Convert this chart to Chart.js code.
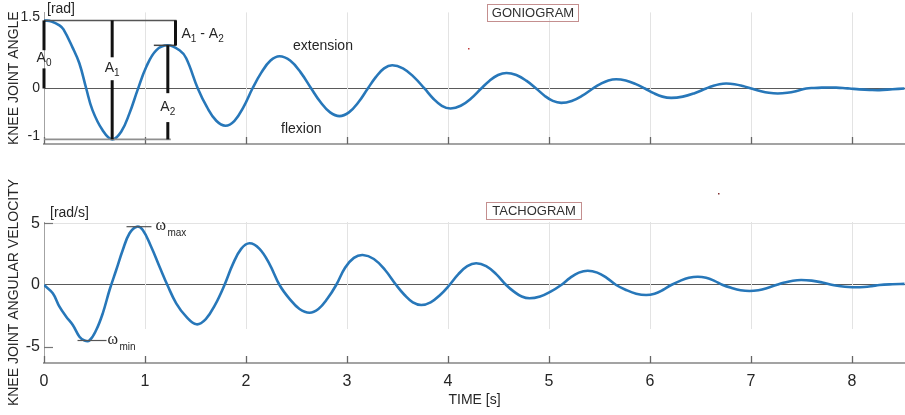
<!DOCTYPE html>
<html><head><meta charset="utf-8">
<script src="https://cdn.jsdelivr.net/npm/chart.js@4.4.1/dist/chart.umd.min.js"></script>
<style>
html,body{margin:0;padding:0;background:#fff;width:905px;height:415px;overflow:hidden}
#wrap{position:relative;width:905px;height:415px;background:#fff}
canvas{position:absolute;left:0}
#c1{top:0}
#c2{top:160px}
</style></head><body>
<div id="wrap"><canvas id="c1" width="905" height="160"></canvas><canvas id="c2" width="905" height="255"></canvas></div>
<script>
// ---------- data ----------
const timeTicks = [0,1,2,3,4,5,6,7,8];
const angleTicks = [-1,0,1.5];
const velTicks = [-5,0,5];

// GONIOGRAM: knee joint angle [rad] vs time [s]
const angleT = [0,0.074,0.153,0.193,0.282,0.350,0.418,0.480,0.579,0.675,0.764,0.847,0.926,1.012,1.111,1.226,1.342,1.408,1.523,
  1.614,1.706,1.797, 1.886,1.975,2.064, 2.153,2.243,2.332, 2.437,2.541,2.646, 2.739,2.833,2.926, 3.019,3.113,3.206,
  3.287,3.367,3.448, 3.554,3.661,3.767, 3.853,3.939,4.025, 4.126,4.228,4.329, 4.412,4.496,4.579, 4.677,4.775,4.873,
  4.956,5.038,5.121, 5.225,5.330,5.434, 5.511,5.588,5.665, 5.760,5.855,5.950, 6.037,6.123,6.210, 6.325,6.441,6.556,
  6.622,6.688,6.754, 6.837,6.919,7.002, 7.090,7.177,7.265, 7.359,7.453,7.547, 7.624,7.700,7.777, 7.843,7.909,7.975,
  8.074,8.173,8.272, 8.400,8.520];
const angleV = [1.423,1.402,1.319,1.235,0.860,0.527,0,-0.452,-0.869,-1.063,-0.904,-0.515,-0.035,0.450,0.798,0.902,0.798,0.631,0,
  -0.390,-0.675,-0.779, -0.675,-0.390,0, 0.337,0.583,0.673, 0.583,0.337,0, -0.289,-0.500,-0.577, -0.500,-0.289,0,
  0.243,0.420,0.485, 0.420,0.243,0, -0.209,-0.361,-0.417, -0.361,-0.209,0, 0.163,0.281,0.325, 0.281,0.163,0,
  -0.150,-0.260,-0.300, -0.260,-0.150,0, 0.097,0.168,0.194, 0.168,0.097,0, -0.098,-0.170,-0.196, -0.170,-0.098,0,
  0.052,0.090,0.104, 0.090,0.052,0, -0.052,-0.090,-0.104, -0.090,-0.052,0, 0.011,0.018,0.021, 0.018,0.011,0,
  -0.018,-0.030,-0.035, -0.015,0];

// TACHOGRAM: knee joint angular velocity [rad/s] vs time [s]
const velT = [0,0.087,0.153,0.220,0.285,0.351,0.401,0.450,0.517,0.582,0.649,0.715,0.780,0.847,0.919,0.978,1.061,1.144,1.226,1.309,1.408,1.510,
  1.602,1.695,1.787, 1.870,1.952,2.035, 2.134,2.233,2.332, 2.431,2.530,2.629, 2.717,2.805,2.893, 2.981,3.068,3.156,
  3.266,3.377,3.487, 3.570,3.652,3.735, 3.828,3.922,4.015, 4.103,4.191,4.279, 4.378,4.477,4.576, 4.653,4.730,4.807,
  4.912,5.016,5.121, 5.209,5.296,5.384, 5.478,5.571,5.665, 5.764,5.863,5.962, 6.045,6.127,6.210, 6.298,6.385,6.473,
  6.556,6.638,6.721, 6.809,6.897,6.985, 7.073,7.162,7.250, 7.332,7.415,7.497, 7.601,7.706,7.810, 7.887,7.965,8.042,
  8.119,8.195,8.272, 8.400,8.520];
const velV = [0,-0.675,-1.764,-2.577,-3.252,-4.203,-4.512,-4.512,-3.659,-2.301,-0.407,1.220,2.846,4.203,4.740,4.472,3.114,1.488,-0.081,-1.488,-2.577,-3.195,
  -2.767,-1.598,0, 1.695,2.936,3.390, 2.936,1.695,0, -1.126,-1.950,-2.252, -1.950,-1.126,0, 1.400,2.200,2.439,
  2.112,1.220,0, -0.813,-1.408,-1.626, -1.408,-0.813,0, 0.882,1.528,1.764, 1.528,0.882,0, -0.540,-0.936,-1.081,
  -0.936,-0.540,0, 0.580,1.007,1.163, 1.007,0.580,0, -0.407,-0.704,-0.813, -0.704,-0.407,0, 0.338,0.585,0.675,
  0.585,0.338,0, -0.244,-0.423,-0.488, -0.423,-0.244,0, 0.204,0.352,0.407, 0.352,0.204,0, -0.094,-0.162,-0.187,
  -0.162,-0.094,0, 0.060,0.090];

// annotation values (amplitudes / extremes as read)
const A0top = 1.423, Amin = -1.063, A2peak = 0.902;
const tA0 = 0, tA1 = 0.675, tA2 = 1.226, tA12 = 1.302;
const wMax = 4.740, wMin = -4.512;

// ---------- styles ----------
const SANS = "'Liberation Sans', Arial, sans-serif";
const SERIF = "'Liberation Serif', 'Times New Roman', serif";
const TXT = '#262626', GRID = '#e3e3e3', AXC = '#a3a3a3', ZERO = '#5a5a5a', LINE = '#2777b9';
Chart.defaults.font.family = SANS;
Chart.defaults.color = TXT;

function seg(ctx, x1, y1, x2, y2, col, lw){
  ctx.beginPath(); ctx.strokeStyle = col; ctx.lineWidth = lw;
  ctx.moveTo(x1, y1); ctx.lineTo(x2, y2); ctx.stroke();
}
// parts: [text, font, size, isSub]
function rich(ctx, x, capMid, parts, align){
  let w = 0;
  const ps = parts.map(p => { ctx.font = p[2] + 'px ' + p[1]; const pw = ctx.measureText(p[0]).width; w += pw; return {t:p[0], f:ctx.font, w:pw, sub:p[3], s:p[2]}; });
  let cx = align === 'center' ? x - w/2 : x;
  const main = parts[0][2];
  const base = capMid + 0.358*main;
  ctx.textAlign = 'left'; ctx.textBaseline = 'alphabetic'; ctx.fillStyle = TXT;
  ps.forEach(p => { ctx.font = p.f; ctx.fillText(p.t, cx, p.sub ? base + 4 : base); cx += p.w; });
}
function boxLabel(ctx, x, y, w, h, text){
  ctx.strokeStyle = '#c48f8f'; ctx.lineWidth = 1;
  ctx.strokeRect(x + 0.5, y + 0.5, w, h);
  ctx.font = '13px ' + SANS; ctx.fillStyle = '#303030';
  ctx.textAlign = 'center'; ctx.textBaseline = 'middle';
  ctx.fillText(text, x + w/2 + 0.5, y + h/2 + 1);
}
function gridAndTicks(chart, gridBottomVal, yTicksIn){
  const {ctx, chartArea:a, scales:{x, y}} = chart;
  ctx.save();
  const gb = gridBottomVal === null ? a.bottom : y.getPixelForValue(gridBottomVal);
  timeTicks.forEach(t => {
    const px = Math.round(x.getPixelForValue(t)) + 0.5;
    if (t > 0) seg(ctx, px, a.top, px, gb, GRID, 1);
    seg(ctx, px, a.bottom, px, a.bottom - 7, '#666', 1.3);
  });
  if (yTicksIn) yTicksIn.forEach(v => {
    const py = Math.round(y.getPixelForValue(v)) + 0.5;
    seg(ctx, a.left, py, a.left + 9, py, '#777', 1.2);
  });
  ctx.restore();
}

const topPlugin = {
  id: 'topOverlay',
  beforeDatasetsDraw(chart){ gridAndTicks(chart, null, null); },
  afterDatasetsDraw(chart){
    const {ctx, scales:{x, y}} = chart;
    const X = v => x.getPixelForValue(v), Y = v => y.getPixelForValue(v);
    ctx.save();
    seg(ctx, X(0), Y(A0top), X(tA12) + 1, Y(A0top), '#555', 1.5);
    seg(ctx, X(0), Y(Amin), X(tA2) + 3, Y(Amin), '#8f8f8f', 1.6);
    seg(ctx, X(tA2) - 14, Y(A2peak), X(tA12) + 1, Y(A2peak), '#444', 1.5);
    const bars = [
      {t:tA0, a:A0top, b:0, g1:0.80, g2:0.42, lab:['A','0']},
      {t:tA1, a:A0top, b:Amin, g1:0.652, g2:0.173, lab:['A','1']},
      {t:tA2, a:A2peak, b:Amin, g1:-0.098, g2:-0.702, lab:['A','2']},
      {t:tA12, a:A0top, b:A2peak, g1:null, g2:null, lab:null}
    ];
    bars.forEach(bb => {
      const px = X(bb.t);
      if (bb.g1 === null) { seg(ctx, px, Y(bb.a), px, Y(bb.b), '#111', 3); }
      else {
        seg(ctx, px, Y(bb.a), px, Y(bb.g1), '#111', 3);
        seg(ctx, px, Y(bb.g2), px, Y(bb.b), '#111', 3);
        const cm = (Y(bb.g1) + Y(bb.g2))/2 - 2;
        rich(ctx, px, cm, [[bb.lab[0], SANS, 14, false], [bb.lab[1], SANS, 10, true]], 'center');
      }
    });
    rich(ctx, X(tA12) + 6, (Y(A0top) + Y(A2peak))/2, [['A', SANS, 14, false], ['1', SANS, 10, true], [' - ', SANS, 14, false], ['A', SANS, 14, false], ['2', SANS, 10, true]], 'left');
    ctx.fillStyle = TXT; ctx.textAlign = 'left'; ctx.textBaseline = 'middle';
    ctx.font = '14px ' + SANS;
    ctx.fillText('[rad]', 47, 9);
    ctx.fillText('extension', 293, 46);
    ctx.fillText('flexion', 281, 129);
    boxLabel(ctx, 487, 4, 91, 17, 'GONIOGRAM');
    ctx.fillStyle = '#c03a3a'; ctx.fillRect(468, 48, 1.5, 1.5);
    ctx.restore();
  }
};

const botPlugin = {
  id: 'botOverlay',
  beforeDatasetsDraw(chart){ gridAndTicks(chart, -3.58, [5, -5]); },
  afterDatasetsDraw(chart){
    const {ctx, scales:{x, y}} = chart;
    const X = v => x.getPixelForValue(v), Y = v => y.getPixelForValue(v);
    ctx.save();
    const yMax = Y(wMax), yMin = Y(wMin);
    seg(ctx, X(0.817), yMax, X(1.064), yMax, '#555', 1.2);
    seg(ctx, X(0.332), yMin, X(0.619), yMin, '#555', 1.2);
    ctx.fillStyle = TXT; ctx.textAlign = 'left'; ctx.textBaseline = 'alphabetic';
    ctx.font = '16px ' + SERIF; ctx.fillText('\u03c9', X(1.064) + 4, yMax + 3.5);
    ctx.font = '10px ' + SANS; ctx.fillText('max', X(1.064) + 16, yMax + 9);
    ctx.font = '16px ' + SERIF; ctx.fillText('\u03c9', X(0.619) + 1, yMin + 3.5);
    ctx.font = '10px ' + SANS; ctx.fillText('min', X(0.619) + 13, yMin + 9);
    ctx.font = '14px ' + SANS; ctx.textBaseline = 'middle';
    ctx.fillText('[rad/s]', 50, 53);
    boxLabel(ctx, 486, 42, 95, 17, 'TACHOGRAM');
    ctx.fillStyle = '#803030'; ctx.fillRect(718, 33, 1.5, 1.5);
    ctx.restore();
  }
};

function pts(T, V){ return T.map((t, i) => ({x:t, y:V[i]})); }

function makeChart(id, T, V, yMin, yMax, yTicks, yTitle, padTop, xHeight, showX, yTickSize, grid5, plugin){
  return new Chart(document.getElementById(id), {
    type: 'line',
    data: { datasets: [{ data: pts(T, V), borderColor: LINE, borderWidth: 2.6, pointRadius: 0, fill: false, tension: 0.4 }] },
    options: {
      responsive: false, animation: false, devicePixelRatio: 1,
      layout: { padding: { top: padTop, left: 0, right: 0, bottom: 0 } },
      plugins: { legend: { display: false }, tooltip: { enabled: false } },
      scales: {
        x: {
          type: 'linear', min: 0, max: 8.525,
          afterBuildTicks(s){ s.ticks = timeTicks.map(v => ({value: v})); },
          grid: { display: false, drawTicks: false },
          border: { display: true, color: AXC, width: 2 },
          ticks: { display: showX, font: { size: 16 }, color: TXT, padding: 9, maxRotation: 0, autoSkip: false, callback: v => String(v) },
          title: { display: showX, text: 'TIME [s]', font: { size: 14 }, color: TXT, padding: { top: 0, bottom: 6 } },
          afterFit(s){ s.height = xHeight; }
        },
        y: {
          type: 'linear', min: yMin, max: yMax,
          afterBuildTicks(s){ s.ticks = yTicks.map(v => ({value: v})); },
          grid: { drawTicks: false, lineWidth: 1, color: c => (c.tick && c.tick.value === 0) ? ZERO : ((grid5 && c.tick && c.tick.value === 5) ? GRID : 'rgba(0,0,0,0)') },
          border: { display: true, color: AXC, width: 1 },
          ticks: { font: { size: yTickSize }, color: TXT, padding: 4, autoSkip: false, callback: v => String(v) },
          title: { display: true, text: yTitle, font: { size: 14 }, color: TXT, padding: { top: 6, bottom: 0 } },
          afterFit(s){ s.width = 44; }
        }
      }
    },
    plugins: [plugin]
  });
}

makeChart('c1', angleT, angleV, -1.16, 1.59, angleTicks, 'KNEE JOINT ANGLE', 12, 16, false, 14, false, topPlugin);
makeChart('c2', velT, velV, -6.34, 5.12, velTicks, 'KNEE JOINT ANGULAR VELOCITY', 62, 52, true, 16, true, botPlugin);
</script></body></html>
